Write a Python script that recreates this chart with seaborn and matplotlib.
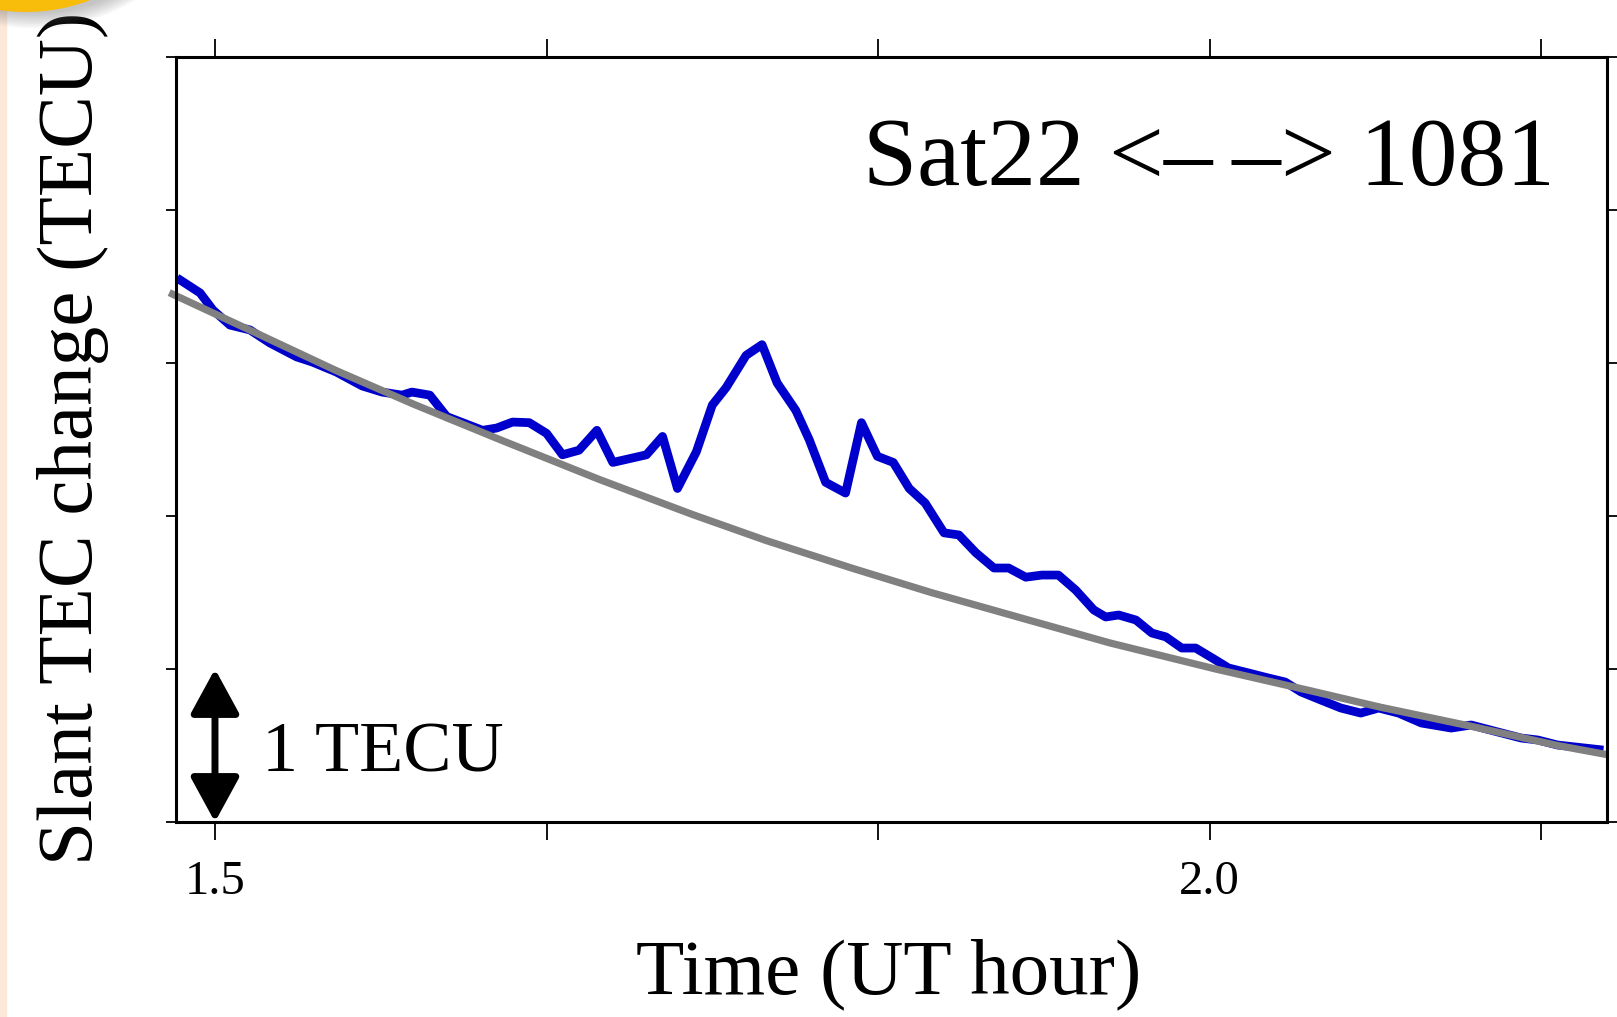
import matplotlib
matplotlib.use("Agg")
import matplotlib.pyplot as plt
import matplotlib.patches as mpatches
from matplotlib.transforms import IdentityTransform
import numpy as np
import pandas as pd
import seaborn as sns

# slant TEC along the Sat22 -> station 1081 line of sight
time_hr = [1.4809, 1.4925, 1.499, 1.5075, 1.5176, 1.5276, 1.541, 1.549, 1.561, 1.574,
           1.584, 1.594, 1.599, 1.608, 1.6165, 1.6245, 1.6345, 1.6416, 1.6496, 1.658,
           1.6667, 1.6747, 1.683, 1.692, 1.70, 1.7169, 1.725, 1.7325, 1.742, 1.75,
           1.757, 1.767, 1.775, 1.7826, 1.792, 1.7987, 1.807, 1.817, 1.825, 1.833,
           1.841, 1.849, 1.857, 1.8665, 1.874, 1.8825, 1.8916, 1.899, 1.9076, 1.9157,
           1.924, 1.9327, 1.9418, 1.9478, 1.9543, 1.963, 1.971, 1.978, 1.986, 1.993,
           2.003, 2.0095, 2.0196, 2.0296, 2.038, 2.046, 2.056, 2.066, 2.076, 2.085,
           2.095, 2.1065, 2.1215, 2.1315, 2.145, 2.1566, 2.165, 2.175, 2.198]
stec = [3.556, 3.458, 3.346, 3.248, 3.216, 3.131, 3.04, 3.006, 2.941, 2.85,
        2.81, 2.79, 2.81, 2.79, 2.65, 2.61, 2.56, 2.575, 2.614, 2.61,
        2.54, 2.40, 2.43, 2.56, 2.35, 2.40, 2.52, 2.18, 2.42, 2.725,
        2.84, 3.05, 3.12, 2.87, 2.69, 2.50, 2.22, 2.15, 2.61, 2.39,
        2.35, 2.18, 2.085, 1.89, 1.876, 1.76, 1.66, 1.66, 1.60, 1.614,
        1.614, 1.516, 1.386, 1.34, 1.353, 1.32, 1.235, 1.21, 1.137, 1.137,
        1.059, 1.007, 0.974, 0.941, 0.915, 0.85, 0.797, 0.745, 0.712, 0.745,
        0.712, 0.647, 0.614, 0.634, 0.588, 0.549, 0.536, 0.503, 0.47]

# reference (background) curve
ref_time = [1.477, 1.52, 1.561, 1.60, 1.645, 1.693, 1.74, 1.777, 1.82, 1.86,
            1.909, 1.95, 2.003, 2.05, 2.086, 2.13, 2.175, 2.2]
ref_stec = [3.46, 3.20, 2.95, 2.73, 2.49, 2.24, 2.01, 1.84, 1.66, 1.50,
            1.32, 1.17, 1.00, 0.86, 0.75, 0.63, 0.50, 0.44]

x_ticks = [1.5, 1.6667, 1.8333, 2.0, 2.1667]
x_ticklabels = ["1.5", "", "", "2.0", ""]
y_ticks = [0, 1, 2, 3, 4, 5]

obs = pd.DataFrame({"t": time_hr, "stec": stec})
ref = pd.DataFrame({"t": ref_time, "stec": ref_stec})

sns.set_theme(style="ticks")
plt.rcParams['font.family'] = ['Liberation Serif', 'DejaVu Serif']

W, H = 1617, 1017
fig = plt.figure(figsize=(W / 100, H / 100), dpi=100)
ax = fig.add_axes([176 / W, 1 - 822 / H, (1607 - 176) / W, (822 - 57) / H])

sns.lineplot(data=obs, x="t", y="stec", ax=ax, color="#0000cc", lw=6.3,
             sort=False, estimator=None)
sns.lineplot(data=ref, x="t", y="stec", ax=ax, color="#808080", lw=5.2,
             sort=False, estimator=None)
for ln in ax.get_lines():
    ln.set_solid_capstyle("butt")
ax.get_lines()[1].set_clip_on(False)

ax.set_xlim(1.4804, 2.1998)
ax.set_ylim(0, 5)
ax.set_xticks(x_ticks)
ax.set_xticklabels(x_ticklabels)
ax.set_yticks(y_ticks)
ax.set_yticklabels([])

for sp in ax.spines.values():
    sp.set_visible(True)
    sp.set_linewidth(2.2)
    sp.set_color("black")

ax.tick_params(axis="x", direction="out", length=13, width=1.3, top=True,
               labelsize=35, pad=14, colors="black")
ax.tick_params(axis="y", direction="out", length=7, width=1.3, right=True,
               labelleft=False, colors="black")

ax.set_xlabel("Time (UT hour)", fontsize=57, color="black")
ax.xaxis.set_label_coords(0.498, -0.153)
ax.set_ylabel("Slant TEC change (TECU)", fontsize=57, color="black")
ax.yaxis.set_label_coords(-0.0465, 0.502)

ax.text(1.826, 4.163, "Sat22 <–\u2009–> 1081", fontsize=70, ha="left",
        va="baseline", color="black")

# 1 TECU scale bar
ax.annotate("", xy=(1.5, 1), xytext=(1.5, 0),
            arrowprops=dict(arrowstyle="<|-|>,head_length=0.55,head_width=0.3",
                            lw=5, color="black", mutation_scale=50,
                            shrinkA=0, shrinkB=0),
            annotation_clip=False)
ax.text(1.5236, 0.327, "1 TECU", fontsize=52, ha="left", va="baseline",
        color="black")

# page remnants: beige margin strip and yellow badge corner
fig.patches.append(mpatches.Rectangle((0, 0), 6, H, transform=IdentityTransform(),
                                      color="#fce8d8", zorder=0))
for k in range(8):
    fig.patches.append(mpatches.Circle((34, H + 170), 182 + 16 - 2 * k,
                                       transform=IdentityTransform(),
                                       color="#707070", alpha=0.06, lw=0))
fig.patches.append(mpatches.Circle((26, H + 168), 180, transform=IdentityTransform(),
                                   color="#f8bc0a", lw=0))

fig.savefig("out.png", dpi=100, facecolor="white")
